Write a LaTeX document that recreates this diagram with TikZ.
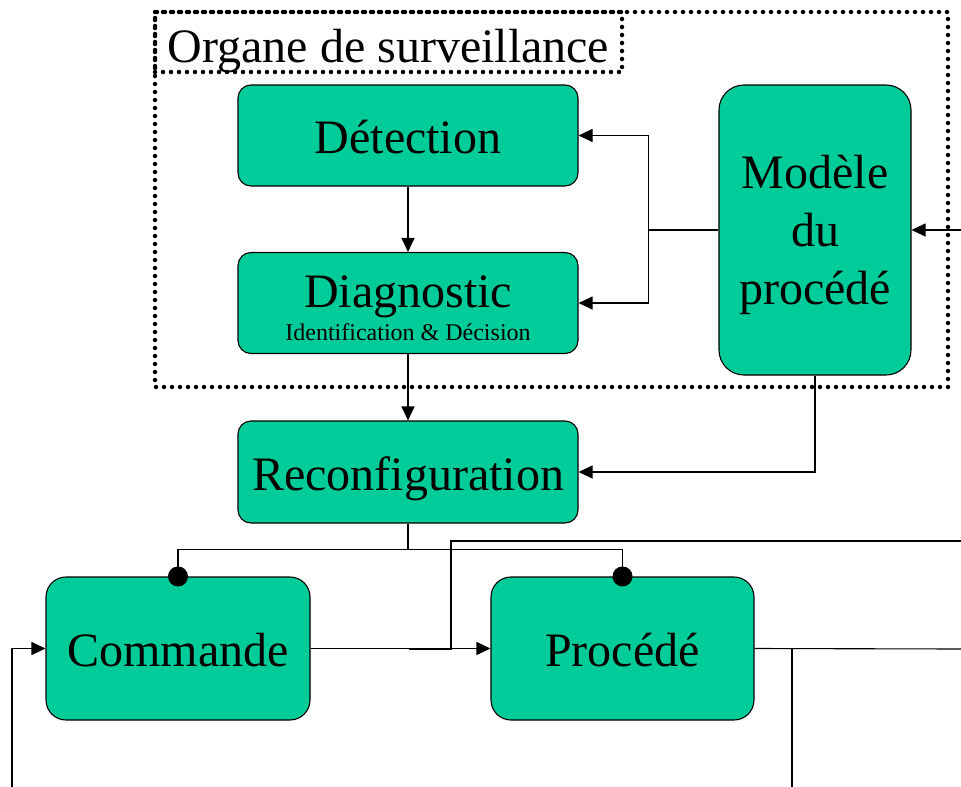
\documentclass[tikz,border=0pt]{standalone}
\usepackage{fontspec}
\setmainfont{Liberation Serif}
\usetikzlibrary{arrows.meta}
\definecolor{vert}{RGB}{0,204,153}

\begin{document}
\begin{tikzpicture}[x=1pt,y=-1pt,line width=1.1pt,
  bloc/.style={draw,fill=vert,rounded corners=13pt,inner sep=0pt,
    font=\fontsize{48}{58}\selectfont},
  ligne/.style={text height=44pt,text depth=8pt},
  fleche/.style={-{Triangle[length=14pt,width=13pt]}},
  pointille/.style={line width=4.5pt,line cap=round,dash pattern=on 0pt off 8pt}]
  \useasboundingbox (0,0) rectangle (961,787);
  % organe de surveillance
  \draw[pointille] (155,12) rectangle (948,387);
  \node[draw,pointille,inner sep=0pt,minimum width=467pt,minimum height=60pt,
    text height=44pt,text depth=4pt,font=\fontsize{48}{58}\selectfont]
    (titre) at (388.5,42) {Organe de surveillance};
  \node[bloc,ligne,minimum width=340pt,minimum height=101pt] (det) at (408,135.5) {Détection};
  \node[bloc,minimum width=340pt,minimum height=101pt] (diag) at (408,303) {};
  \node[anchor=base,inner sep=0pt,font=\fontsize{48}{58}\selectfont] (diagtxt) at (408,307) {Diagnostic};
  \node[anchor=base,inner sep=0pt,font=\fontsize{24}{24}\selectfont] (diagsub) at (408,340) {Identification \& Décision};
  \node[bloc,align=center,rounded corners=25pt,minimum width=192pt,minimum height=290pt,
    text height=148pt,text depth=0pt] (mod) at (815,230)
    {Modèle\\du\\procédé};
  \node[bloc,ligne,minimum width=340pt,minimum height=102pt] (recon) at (408,472) {Reconfiguration};
  \node[bloc,ligne,rounded corners=20pt,minimum width=264pt,minimum height=143pt] (cmd) at (178,648.5) {Commande};
  \node[bloc,ligne,rounded corners=20pt,minimum width=263pt,minimum height=143pt] (proc) at (622.5,648.5) {Procédé};
  % points libres
  \coordinate (entree) at (961,230);
  \coordinate (consigne) at (961,541);
  \coordinate (coude) at (451,649);
  \coordinate (ci) at (409,649);
  \coordinate (sortie) at (961,649);
  \coordinate (mes) at (792,649);
  \coordinate (mesbas) at (792,787);
  \coordinate (retour) at (12,787);
  % liaisons
  \draw[fleche] (det) -- (diag);
  \draw[fleche] (diag.south) -- (recon.north);
  \draw[fleche] (entree) -- (mod.east);
  \draw (mod.west) -- ++(-70,0) coordinate (j);
  \draw[fleche] (j) |- (det.east);
  \draw[fleche] (j) |- (diag.east);
  \draw[fleche] (mod.south) |- (recon.east);
  \draw (recon.south) -- ++(0,26) coordinate (br);
  \draw (cmd.north) |- (br) -| (proc.north);
  \fill (cmd.north) circle (10);
  \fill (proc.north) circle (10);
  \draw[fleche] (cmd.east) -- (proc.west);
  \draw (consigne) -| (coude) -- (ci);
  \draw (proc.east) -- (sortie);
  \draw (mes) -- (mesbas);
  \draw[fleche] (retour) |- (cmd.west);
\end{tikzpicture}
\end{document}
